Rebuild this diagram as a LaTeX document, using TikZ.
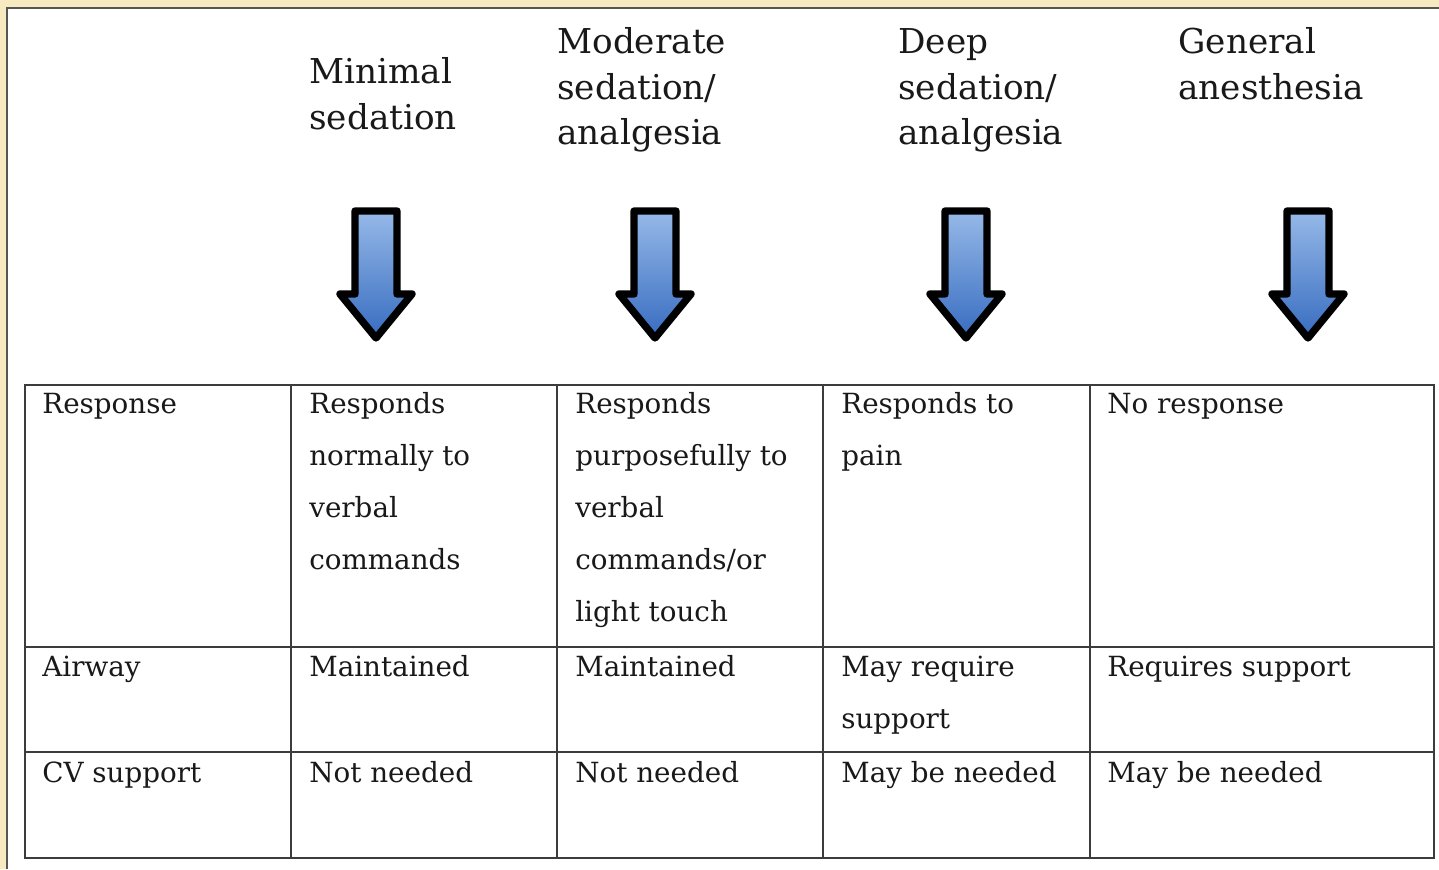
\documentclass[tikz,border=0pt]{standalone}
\usepackage{fontspec}
\setmainfont{DejaVu Serif}
\usepackage{tikz}
\usetikzlibrary{positioning}
\definecolor{paper}{RGB}{248,234,192}
\definecolor{framegray}{RGB}{85,85,85}
\definecolor{rulegray}{RGB}{60,60,60}
\definecolor{textdark}{RGB}{25,25,25}
\definecolor{arrowtop}{RGB}{150,185,232}
\definecolor{arrowbot}{RGB}{55,108,192}
\tikzset{
    head/.style={anchor=north west, inner sep=0pt, align=left, text=textdark,
        font=\fontsize{19.5}{26}\selectfont},
    cell/.style={anchor=north west, inner sep=0pt, align=left, text=textdark,
        font=\fontsize{15.8}{29.6}\selectfont},
    rule/.style={rulegray, line width=1.1pt},
    downarrow/.style={draw=black, line width=4.2pt, line join=round,
        top color=arrowtop, bottom color=arrowbot}
}

\begin{document}
\begin{tikzpicture}[x=0.02cm,y=-0.02cm]
    \useasboundingbox (0,0) rectangle (1439,869);
    %Paper and panel
    \fill[paper] (0,0) rectangle (1439,869);
    \fill[white] (7,8) rectangle (1439,869);
    \draw[framegray, line width=1.6pt] (7,869) -- (7,8) -- (1439,8);
    %Headers (top = baseline - 32)
    \node[head] (hMin) at (309,51) {\strut Minimal\\sedation};
    \node[head] (hMod) at (557,21) {\strut Moderate\\sedation/\\analgesia};
    \node[head] (hDeep) at (898,21) {\strut Deep\\sedation/\\analgesia};
    \node[head] (hGen) at (1178,21) {\strut General\\anesthesia};
    %Arrows
    \foreach \x in {376,655,966,1308}
        \draw[downarrow] ({\x-21},211) -- ({\x+21},211) -- ({\x+21},294) -- ({\x+36},294)
            -- (\x,338) -- ({\x-36},294) -- ({\x-21},294) -- cycle;
    %Table grid
    \draw[rule] (25,385) rectangle (1434,858);
    \foreach \y in {647,752}
        \draw[rule] (25,\y) -- (1434,\y);
    \foreach \x in {291,557,823,1090}
        \draw[rule] (\x,385) -- (\x,858);
    %Row: Response (top = baseline - 36.5)
    \node[cell] (rResp) at (42,376.5) {\strut Response};
    \node[cell] (rResp1) at (309,376.5) {\strut Responds\\normally to\\verbal\\commands};
    \node[cell] (rResp2) at (575,376.5) {\strut Responds\\purposefully to\\verbal\\commands/or\\light touch};
    \node[cell] (rResp3) at (841,376.5) {\strut Responds to\\pain};
    \node[cell] (rResp4) at (1107,376.5) {\strut No response};
    %Row: Airway
    \node[cell] (rAir) at (42,639.5) {\strut Airway};
    \node[cell] (rAir1) at (309,639.5) {\strut Maintained};
    \node[cell] (rAir2) at (575,639.5) {\strut Maintained};
    \node[cell] (rAir3) at (841,639.5) {\strut May require\\support};
    \node[cell] (rAir4) at (1107,639.5) {\strut Requires support};
    %Row: CV support
    \node[cell] (rCV) at (42,745.5) {\strut CV support};
    \node[cell] (rCV1) at (309,745.5) {\strut Not needed};
    \node[cell] (rCV2) at (575,745.5) {\strut Not needed};
    \node[cell] (rCV3) at (841,745.5) {\strut May be needed};
    \node[cell] (rCV4) at (1107,745.5) {\strut May be needed};
\end{tikzpicture}
\end{document}
